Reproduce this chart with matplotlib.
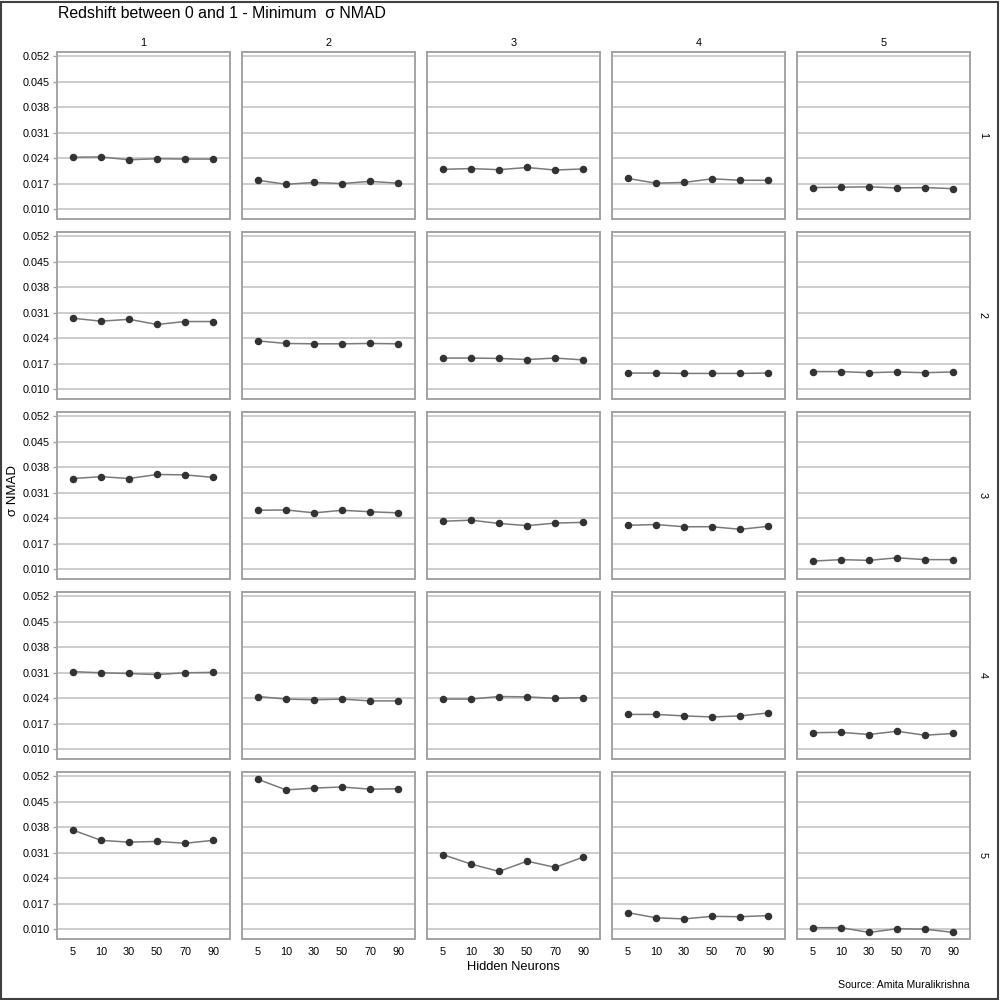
import matplotlib
matplotlib.use("Agg")
import matplotlib.pyplot as plt
from matplotlib.patches import Rectangle

plt.rcParams['font.family'] = ['Liberation Sans', 'DejaVu Sans']

hidden_neurons = ["5", "10", "30", "50", "70", "90"]
col_labels = ["1", "2", "3", "4", "5"]
row_labels = ["1", "2", "3", "4", "5"]
y_ticks = [0.010, 0.017, 0.024, 0.031, 0.038, 0.045, 0.052]

# sigma NMAD per facet: row r -> list of 5 columns, each 6 values (one per hidden-neuron setting)
row1 = [
    [0.0243, 0.0244, 0.0236, 0.0239, 0.0238, 0.0238],
    [0.0180, 0.0169, 0.0174, 0.0171, 0.0177, 0.0172],
    [0.0210, 0.0212, 0.0209, 0.0215, 0.0208, 0.0211],
    [0.0185, 0.0172, 0.0174, 0.0184, 0.0180, 0.0180],
    [0.0160, 0.0161, 0.0162, 0.0159, 0.0160, 0.0157],
]
row2 = [
    [0.0295, 0.0287, 0.0292, 0.0278, 0.0286, 0.0286],
    [0.0233, 0.0226, 0.0225, 0.0225, 0.0226, 0.0225],
    [0.0186, 0.0186, 0.0185, 0.0182, 0.0186, 0.0181],
    [0.0145, 0.0145, 0.0144, 0.0144, 0.0144, 0.0145],
    [0.0149, 0.0149, 0.0146, 0.0148, 0.0146, 0.0148],
]
row3 = [
    [0.0349, 0.0354, 0.0349, 0.0360, 0.0359, 0.0352],
    [0.0262, 0.0263, 0.0255, 0.0262, 0.0258, 0.0255],
    [0.0232, 0.0235, 0.0226, 0.0220, 0.0227, 0.0229],
    [0.0221, 0.0223, 0.0217, 0.0217, 0.0210, 0.0218],
    [0.0123, 0.0127, 0.0125, 0.0132, 0.0127, 0.0127],
]
row4 = [
    [0.0313, 0.0310, 0.0308, 0.0305, 0.0310, 0.0311],
    [0.0245, 0.0238, 0.0236, 0.0238, 0.0233, 0.0233],
    [0.0238, 0.0238, 0.0245, 0.0244, 0.0240, 0.0242],
    [0.0196, 0.0196, 0.0192, 0.0189, 0.0192, 0.0200],
    [0.0146, 0.0147, 0.0141, 0.0150, 0.0139, 0.0144],
]
row5 = [
    [0.0372, 0.0344, 0.0339, 0.0341, 0.0336, 0.0344],
    [0.0511, 0.0482, 0.0487, 0.0490, 0.0484, 0.0485],
    [0.0305, 0.0279, 0.0259, 0.0287, 0.0270, 0.0298],
    [0.0146, 0.0132, 0.0129, 0.0136, 0.0135, 0.0138],
    [0.0105, 0.0105, 0.0092, 0.0102, 0.0101, 0.0092],
]
rows = [row1, row2, row3, row4, row5]

W, H = 1000, 1000
fig = plt.figure(figsize=(10, 10), dpi=100)
fig.patch.set_facecolor("white")

col_left = [57, 242, 427, 612, 797]
row_top = [52, 232, 412, 592, 772]
pw, ph = 173, 167

FRAME = "#a3a3a3"
GRID = "#c9c9c9"
tick_fs = 7.8

for r in range(5):
    for c in range(5):
        ax = fig.add_axes([col_left[c] / W, 1 - (row_top[r] + ph) / H, pw / W, ph / H])
        x = list(range(len(hidden_neurons)))
        vals = rows[r][c]
        ax.plot(x, vals, color="#7a7a7a", lw=1.1, zorder=3)
        ax.plot(x, vals, ls="none", marker="o", ms=4.4, color="#333333", zorder=4)
        ax.set_xlim(-0.57, 5.6)
        ax.set_ylim(0.0074, 0.0531)
        ax.set_yticks(y_ticks)
        ax.set_xticks(x)
        ax.grid(axis="y", color=GRID, lw=1.3, zorder=1)
        ax.set_axisbelow(True)
        for s in ax.spines.values():
            s.set_color(FRAME)
            s.set_linewidth(1.4)
        ax.tick_params(axis="y", length=3, width=1, color=FRAME, pad=2, labelsize=tick_fs)
        ax.tick_params(axis="x", length=0, pad=6, labelsize=tick_fs)
        if c == 0:
            ax.set_yticklabels([f"{v:.3f}" for v in y_ticks])
        else:
            ax.tick_params(axis="y", length=0, labelleft=False)
        if r == 4:
            ax.set_xticklabels(hidden_neurons)
        else:
            ax.tick_params(axis="x", labelbottom=False)
        if r == 0:
            ax.text(0.5, 1 + 9 / ph, col_labels[c], transform=ax.transAxes,
                    ha="center", va="center", fontsize=tick_fs)
        if c == 4:
            ax.text(1 + 13 / pw, 0.5, row_labels[r], transform=ax.transAxes,
                    ha="center", va="center", rotation=-90, fontsize=tick_fs)

fig.text(58 / W, 1 - 14 / H, "Redshift between 0 and 1 - Minimum  σ NMAD",
         ha="left", va="center", fontsize=11.4)
fig.text(13 / W, 1 - 490 / H, "σ NMAD", ha="center", va="center",
         rotation=90, fontsize=9.5)
fig.text(513 / W, 1 - 967 / H, "Hidden Neurons", ha="center", va="center", fontsize=9.3)
fig.text(970 / W, 1 - 985 / H, "Source: Amita Muralikrishna", ha="right",
         va="center", fontsize=7.6)

fig.patches.append(Rectangle((0.001, 0.001), 0.997, 0.997, transform=fig.transFigure,
                             fill=False, edgecolor="#404040", lw=1.5))

fig.savefig("out.png", dpi=100)
